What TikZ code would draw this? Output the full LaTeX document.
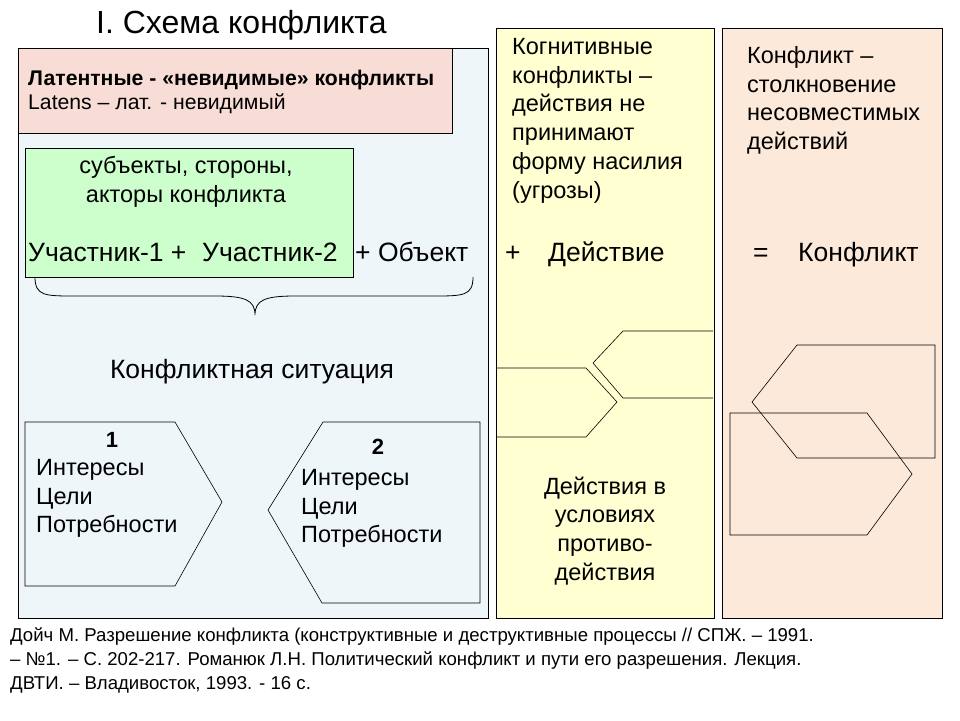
\documentclass[tikz,border=0pt]{standalone}
\usepackage{fontspec}
\setmainfont{Liberation Sans}
\definecolor{pblue}{HTML}{EEF6F9}
\definecolor{ppink}{HTML}{F8DCD6}
\definecolor{pgreen}{HTML}{CCFFCC}
\definecolor{pyel}{HTML}{FFFFD2}
\definecolor{porg}{HTML}{FCE9D9}
\begin{document}
\begin{tikzpicture}[x=1pt,y=-1pt,
  panel/.style={draw=black,line width=0.8pt},
  shp/.style={draw=black,line width=0.6pt},
  big/.style={font=\fontsize{26.5}{30}\selectfont,inner sep=0pt},
  mid/.style={font=\fontsize{23.5}{28.8}\selectfont,inner sep=0pt,align=left,anchor=north west},
  midc/.style={font=\fontsize{23.5}{28.8}\selectfont,inner sep=0pt,align=center},
  foot/.style={font=\fontsize{18.6}{24}\selectfont,inner sep=0pt,anchor=west}]
\useasboundingbox[fill=white] (0,0) rectangle (960,720);
\node[font=\fontsize{32}{36}\selectfont,inner sep=0pt,anchor=west] (title) at (96,25) {I. Схема конфликта};
% panels
\path[panel,fill=pblue] (18,48) rectangle (488,618);
\path[panel,fill=pyel] (496,28) rectangle (714,618);
\path[panel,fill=porg] (722,28) rectangle (942,618);
\path[panel,fill=ppink] (18,48) rectangle (452,133);
\node[font=\bfseries\fontsize{21.2}{24}\selectfont,inner sep=0pt,anchor=west] (lat1) at (28,80) {Латентные - «невидимые» конфликты};
\node[font=\fontsize{21.2}{24}\selectfont,inner sep=0pt,anchor=west] (lat2) at (28,104) {Latens – лат. - невидимый};
\path[panel,fill=pgreen] (25,148) rectangle (353,277);
\node[midc] (sub) at (186,182) {субъекты, стороны,\\акторы конфликта};
% main row
\node[big,anchor=base west] (u1) at (28,261) {Участник-1 +};
\node[big,anchor=base west] (u2) at (202,261) {Участник-2};
\node[big,anchor=base west] (obj) at (355,261) {+ Объект};
\node[big,anchor=base west] (pl) at (505,261) {+};
\node[big,anchor=base west] (act) at (548,261) {Действие};
\node[big,anchor=base west] (eq) at (753,261) {=};
\node[big,anchor=base west] (kon) at (798,261) {Конфликт};
% brace
\draw[line width=0.8pt] (35,277) .. controls (35,296) and (45,296) .. (75,296) -- (215,296) .. controls (245,296) and (255,300) .. (255,315)
  .. controls (255,300) and (265,296) .. (295,296) -- (433,296) .. controls (463,296) and (473,296) .. (473,277);
\node[big] (sit) at (252,372) {Конфликтная ситуация};
% hexes
\path[shp,fill=pblue] (25,422) -- (175,422) -- (222,502) -- (175,586) -- (25,586) -- cycle;
\node[font=\bfseries\fontsize{22}{26}\selectfont,inner sep=0pt] (n1) at (112,440) {1};
\node[mid] (t1) at (36,459) {Интересы\\Цели\\Потребности};
\path[shp,fill=pblue] (480,422) -- (323,422) -- (268,510) -- (322,603) -- (480,603) -- cycle;
\node[font=\bfseries\fontsize{22}{26}\selectfont,inner sep=0pt] (n2) at (378,447) {2};
\node[mid] (t2) at (301,469) {Интересы\\Цели\\Потребности};
% yellow
\node[mid] (cog) at (512,38) {Когнитивные\\конфликты –\\действия не\\принимают\\форму насилия\\(угрозы)};
\draw[shp] (497,368) -- (586,368) -- (617,402) -- (586,437) -- (497,437);
\draw[shp] (713,331) -- (623,331) -- (593,363) -- (623,398) -- (713,398);
\node[midc] (dv) at (605,531) {Действия в\\условиях\\противо-\\действия};
% orange
\node[mid] (kc) at (747,46) {Конфликт –\\столкновение\\несовместимых\\действий};
\draw[shp] (797,345) -- (935,345) -- (935,458) -- (797,458) -- (752,402) -- cycle;
\draw[shp] (730,413) -- (867,413) -- (912,474) -- (867,535) -- (730,535) -- cycle;
% footer
\node[foot] (f1) at (10,637) {Дойч М. Разрешение конфликта (конструктивные и деструктивные процессы // СПЖ. – 1991.};
\node[foot] (f2) at (10,661) {– №1. – С. 202-217. Романюк Л.Н. Политический конфликт и пути его разрешения. Лекция.};
\node[foot] (f3) at (10,685) {ДВТИ. – Владивосток, 1993. - 16 с.};
\end{tikzpicture}
\end{document}
